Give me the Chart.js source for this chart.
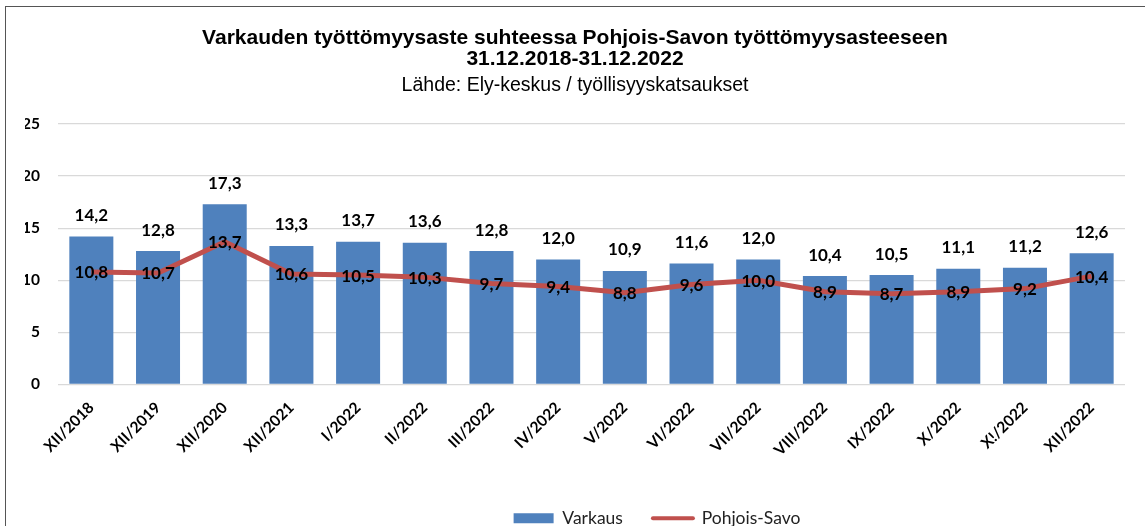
<!DOCTYPE html>
<html>
<head>
<meta charset="utf-8">
<script src="https://cdn.jsdelivr.net/npm/chart.js@4.4.1/dist/chart.umd.min.js"></script>
<style>
  html, body { margin: 0; padding: 0; background: #fff; overflow: hidden; }
  #wrap { position: relative; width: 1145px; height: 526px; }
  #frame { position: absolute; left: 5px; top: 6px; width: 1200px; height: 600px;
           border: 1px solid #555; pointer-events: none; }
</style>
</head>
<body>
<div id="wrap">
  <canvas id="chart" width="1145" height="526"></canvas>
  <div id="frame"></div>
</div>
<script>
'use strict';
// chart data
const categories = ['XII/2018', 'XII/2019', 'XII/2020', 'XII/2021', 'I/2022', 'II/2022',
  'III/2022', 'IV/2022', 'V/2022', 'VI/2022', 'VII/2022', 'VIII/2022', 'IX/2022',
  'X/2022', 'X!/2022', 'XII/2022'];
const varkaus = [14.2, 12.8, 17.3, 13.3, 13.7, 13.6, 12.8, 12.0, 10.9, 11.6, 12.0,
  10.4, 10.5, 11.1, 11.2, 12.6];
const pohjoisSavo = [10.8, 10.7, 13.7, 10.6, 10.5, 10.3, 9.7, 9.4, 8.8, 9.6, 10.0,
  8.9, 8.7, 8.9, 9.2, 10.4];
const yTicks = [0, 5, 10, 15, 20, 25];

const BLUE = '#4F81BD';
const RED = '#C0504D';
const fmt = v => v.toFixed(1).replace('.', ',');

// value labels: above bars, centred on line points
const valueLabels = {
  id: 'valueLabels',
  afterDatasetsDraw(chart) {
    const ctx = chart.ctx;
    ctx.save();
    ctx.font = 'bold 17px Lato';
    ctx.fillStyle = '#000';
    ctx.textAlign = 'center';
    ctx.textBaseline = 'middle';
    chart.getDatasetMeta(0).data.forEach((bar, i) => {
      ctx.fillText(fmt(varkaus[i]), bar.x, bar.y - 21);
    });
    chart.getDatasetMeta(1).data.forEach((pt, i) => {
      ctx.fillText(fmt(pohjoisSavo[i]), pt.x, pt.y + 1);
    });
    ctx.restore();
  },
};

// legend sits right of centre in the original
const shiftLegend = {
  id: 'shiftLegend',
  afterLayout(chart) {
    chart.legend.left += 82;
    chart.legend.right += 82;
  },
};

new Chart(document.getElementById('chart'), {
  data: {
    labels: categories,
    datasets: [
      {
        type: 'bar',
        label: 'Varkaus',
        data: varkaus,
        backgroundColor: BLUE,
        categoryPercentage: 1,
        barPercentage: 0.66,
        order: 1,
      },
      {
        type: 'line',
        label: 'Pohjois-Savo',
        data: pohjoisSavo,
        borderColor: RED,
        backgroundColor: RED,
        borderWidth: 5,
        pointRadius: 0,
        tension: 0,
        order: 0,
      },
    ],
  },
  options: {
    responsive: false,
    animation: false,
    layout: { padding: { left: 25, right: 20, top: 0, bottom: -11 } },
    plugins: {
      title: {
        display: true,
        text: ['Varkauden työttömyysaste suhteessa Pohjois-Savon työttömyysasteeseen',
          '31.12.2018-31.12.2022'],
        font: { family: 'Liberation Sans', size: 21, weight: 'bold', lineHeight: 1.0 },
        color: '#000',
        padding: { top: 27.5, bottom: 6.25 },
      },
      subtitle: {
        display: true,
        text: 'Lähde: Ely-keskus / työllisyyskatsaukset',
        font: { family: 'Liberation Sans', size: 19.5, lineHeight: 1.05 },
        color: '#000',
        padding: { top: 0, bottom: 27.75 },
      },
      legend: {
        position: 'bottom',
        labels: {
          usePointStyle: true,
          pointStyleWidth: 40,
          boxHeight: 10,
          padding: 30,
          color: '#222',
          font: { family: 'Lato', size: 17.5 },
          sort: (a, b) => a.datasetIndex - b.datasetIndex,
          generateLabels(chart) {
            const items = Chart.defaults.plugins.legend.labels.generateLabels(chart);
            items.forEach(it => {
              if (it.datasetIndex === 0) {
                it.pointStyle = 'rect';
                it.fillStyle = BLUE;
                it.lineWidth = 0;
              } else {
                it.pointStyle = 'line';
                it.strokeStyle = RED;
                it.lineWidth = 4;
                it.lineCap = 'round';
              }
            });
            return items;
          },
        },
      },
      tooltip: { enabled: false },
    },
    scales: {
      x: {
        afterFit: axis => { axis.height += 14; },
        grid: { display: false },
        border: { display: false },
        ticks: {
          color: '#000',
          font: { family: 'Lato', size: 15.5, weight: 'bold' },
          minRotation: 45,
          maxRotation: 45,
          padding: 6,
        },
      },
      y: {
        min: 0,
        max: 25,
        afterBuildTicks: axis => { axis.ticks = yTicks.map(v => ({ value: v })); },
        afterFit: axis => { axis.width = 33; },
        grid: { color: '#d9d9d9', lineWidth: 1.3, drawTicks: false },
        border: { display: false },
        ticks: {
          color: '#000',
          padding: 18,
          font: { family: 'Lato', size: 15.5, weight: 'bold' },
        },
      },
    },
  },
  plugins: [valueLabels, shiftLegend],
});
</script>
</body>
</html>
